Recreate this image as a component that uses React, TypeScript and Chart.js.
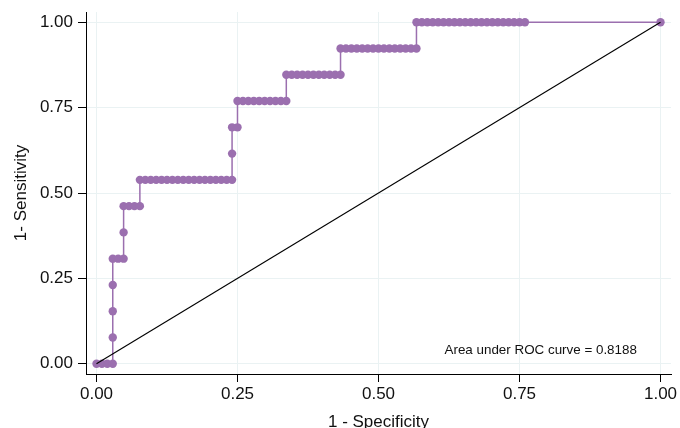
import React, { useEffect, useRef } from "react";
import { Chart, registerables } from "chart.js";

Chart.register(...registerables);

// Totals of the two classes
const N_NEG = 104;
const N_POS = 13;

// ROC points: cumulative false-positive counts (x) and true-positive counts (y)
const fpCounts = [
  0, 1, 2, 3,
  3, 3, 3, 3,
  4, 5,
  5, 5,
  6, 7, 8,
  8, 9, 10, 11, 12, 13, 14, 15, 16, 17, 18, 19, 20, 21, 22, 23, 24, 25,
  25, 25,
  26,
  26, 27, 28, 29, 30, 31, 32, 33, 34, 35,
  35, 36, 37, 38, 39, 40, 41, 42, 43, 44, 45,
  45, 46, 47, 48, 49, 50, 51, 52, 53, 54, 55, 56, 57, 58, 59,
  59, 60, 61, 62, 63, 64, 65, 66, 67, 68, 69, 70, 71, 72, 73, 74, 75, 76, 77, 78, 79,
  104,
];
const tpCounts = [
  0, 0, 0, 0,
  1, 2, 3, 4,
  4, 4,
  5, 6,
  6, 6, 6,
  7, 7, 7, 7, 7, 7, 7, 7, 7, 7, 7, 7, 7, 7, 7, 7, 7, 7,
  8, 9,
  9,
  10, 10, 10, 10, 10, 10, 10, 10, 10, 10,
  11, 11, 11, 11, 11, 11, 11, 11, 11, 11, 11,
  12, 12, 12, 12, 12, 12, 12, 12, 12, 12, 12, 12, 12, 12, 12,
  13, 13, 13, 13, 13, 13, 13, 13, 13, 13, 13, 13, 13, 13, 13, 13, 13, 13, 13, 13, 13,
  13,
];

const diagonalX = [0, 1];
const diagonalY = [0, 1];

const tickValues = [0, 0.25, 0.5, 0.75, 1];
const AUC_LABEL = "Area under ROC curve = 0.8188";
const X_TITLE = "1 - Specificity";
const Y_TITLE = "1- Sensitivity";

const PURPLE = "#9b6faf";
const GRID = "rgb(234,242,243)";
const FONT = "'Liberation Sans', Arial, sans-serif";

const noteLabel = {
  id: "noteLabel",
  afterDatasetsDraw(chart: any) {
    const { ctx, scales } = chart;
    const opts = chart.options.plugins.noteLabel;
    const x = scales.x.getPixelForValue(opts.x);
    const y = scales.y.getPixelForValue(opts.y);
    ctx.save();
    ctx.font = `13.4px ${FONT}`;
    ctx.fillStyle = "#111";
    ctx.textAlign = "left";
    ctx.textBaseline = "middle";
    ctx.fillText(opts.text, x, y);
    ctx.restore();
  },
};

export default function App() {
  const ref = useRef<HTMLCanvasElement>(null);

  useEffect(() => {
    document.body.style.margin = "0";
    const rocData = fpCounts.map((fp, i) => ({ x: fp / N_NEG, y: tpCounts[i] / N_POS }));
    const diagData = diagonalX.map((x, i) => ({ x, y: diagonalY[i] }));
    const setTicks = (scale: any) => {
      scale.ticks = tickValues.map((v) => ({ value: v }));
    };
    const chart = new Chart(ref.current!, {
      type: "scatter",
      data: {
        datasets: [
          {
            data: diagData,
            showLine: true,
            borderColor: "#000",
            borderWidth: 1.1,
            pointRadius: 0,
          },
          {
            data: rocData,
            showLine: true,
            borderColor: PURPLE,
            borderWidth: 1.5,
            backgroundColor: PURPLE,
            pointBackgroundColor: PURPLE,
            pointBorderWidth: 0,
            pointRadius: 4.2,
          },
        ],
      },
      options: {
        animation: false,
        responsive: false,
        layout: { padding: { top: 12, right: 9, left: 0, bottom: 0 } },
        plugins: {
          legend: { display: false },
          tooltip: { enabled: false },
          noteLabel: { text: AUC_LABEL, x: 0.617, y: 0.038 },
        } as any,
        scales: {
          x: {
            type: "linear",
            min: -0.0186,
            max: 1.0186,
            afterBuildTicks: setTicks,
            afterFit: (s: any) => {
              s.height = 54;
              s.paddingLeft = 0;
              s.paddingRight = 0;
            },
            grid: { color: GRID, lineWidth: 1, tickColor: "#000", tickLength: 8, tickWidth: 1 },
            border: { display: true, color: "#000", width: 1 },
            ticks: {
              font: { family: FONT, size: 17 },
              color: "#111",
              padding: 2,
              maxRotation: 0,
              callback: (v: any) => Number(v).toFixed(2),
            },
            title: {
              display: true,
              text: X_TITLE,
              font: { family: FONT, size: 17 },
              color: "#111",
              padding: { top: 0, bottom: -5 },
            },
          },
          y: {
            type: "linear",
            min: -0.03,
            max: 1.03,
            afterBuildTicks: setTicks,
            afterFit: (s: any) => {
              s.width = 86;
              s.paddingTop = 0;
              s.paddingBottom = 0;
            },
            grid: { color: GRID, lineWidth: 1, tickColor: "#000", tickLength: 8, tickWidth: 1 },
            border: { display: true, color: "#000", width: 1 },
            ticks: {
              font: { family: FONT, size: 17 },
              color: "#111",
              padding: 5,
              callback: (v: any) => Number(v).toFixed(2),
            },
            title: {
              display: true,
              text: Y_TITLE,
              font: { family: FONT, size: 17 },
              color: "#111",
              padding: { top: 11, bottom: 0 },
            },
          },
        },
      } as any,
      plugins: [noteLabel],
    });
    return () => chart.destroy();
  }, []);

  return (
    <div style={{ width: 680, height: 428 }}>
      <canvas ref={ref} width={680} height={428} style={{ display: "block" }} />
    </div>
  );
}
